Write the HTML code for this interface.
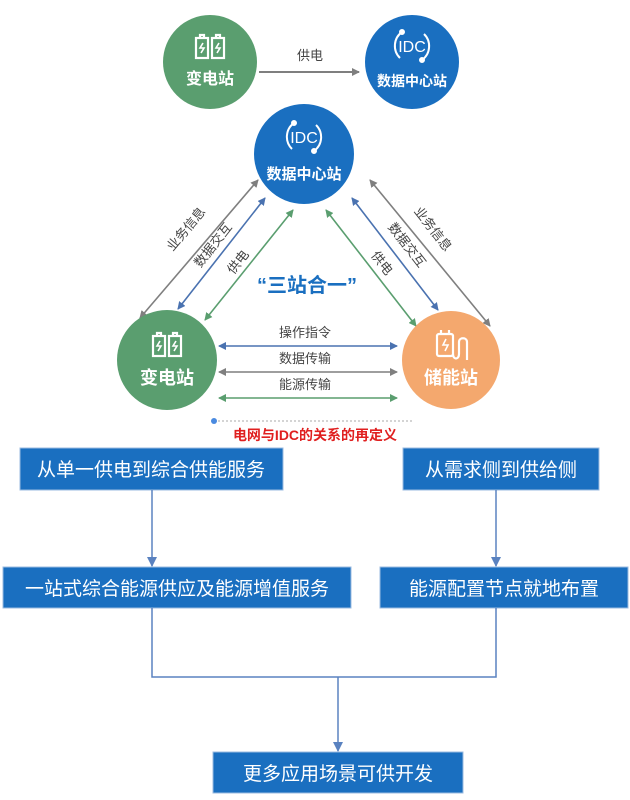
<!DOCTYPE html>
<html><head><meta charset="utf-8"><style>
html,body{margin:0;padding:0;background:#fff;}
svg{display:block;font-family:"Liberation Sans","Noto Sans CJK SC",sans-serif;}
</style></head><body>
<svg width="630" height="800" viewBox="0 0 630 800" xmlns="http://www.w3.org/2000/svg">
<defs>
<marker id="ag" markerWidth="8" markerHeight="8" refX="7" refY="4" orient="auto-start-reverse" markerUnits="userSpaceOnUse"><path d="M0,0 L8,4 L0,8 z" fill="#7f7f7f"/></marker>
<marker id="ab" markerWidth="8" markerHeight="8" refX="7" refY="4" orient="auto-start-reverse" markerUnits="userSpaceOnUse"><path d="M0,0 L8,4 L0,8 z" fill="#4a72b0"/></marker>
<marker id="agr" markerWidth="8" markerHeight="8" refX="7" refY="4" orient="auto-start-reverse" markerUnits="userSpaceOnUse"><path d="M0,0 L8,4 L0,8 z" fill="#5a9e6f"/></marker>
<marker id="af" markerWidth="10" markerHeight="10" refX="9" refY="5" orient="auto" markerUnits="userSpaceOnUse"><path d="M0,0 L10,5 L0,10 z" fill="#5a82c0"/></marker>
<g id="bat" fill="none" stroke="#fff" stroke-width="2.2">
<rect x="-14" y="-10" width="12" height="20"/><rect x="2" y="-10" width="12" height="20"/>
<path d="M-10,-10v-3h4v3M6,-10v-3h4v3"/>
<path d="M-7,-5l-3,5h4l-3,5M9,-5l-3,5h4l-3,5" stroke-width="1.6"/>
</g>
<g id="idc" fill="none" stroke="#fff" stroke-width="2">
<path d="M-10,-14 A17,17 0 0 0 -12,12"/><path d="M10,14 A17,17 0 0 0 12,-12"/>
<circle cx="-10" cy="-14" r="2" fill="#fff"/><circle cx="10" cy="14" r="2" fill="#fff"/>
</g>
</defs>

<circle cx="210" cy="62" r="47" fill="#5a9e6f"/>
<use href="#bat" x="210" y="48"/>
<text x="210" y="84" fill="#fff" font-size="16" font-weight="bold" text-anchor="middle">变电站</text>
<circle cx="412" cy="62" r="47" fill="#1a6fc0"/>
<use href="#idc" x="412" y="46"/>
<text x="412" y="52" fill="#fff" font-size="16" text-anchor="middle">IDC</text>
<text x="412" y="86" fill="#fff" font-size="14" font-weight="bold" text-anchor="middle">数据中心站</text>
<line x1="259" y1="72" x2="359" y2="72" stroke="#7f7f7f" stroke-width="2" marker-end="url(#ag)"/>
<text x="310" y="60" font-size="13" fill="#444" text-anchor="middle">供电</text>

<circle cx="304" cy="154" r="50" fill="#1a6fc0"/>
<use href="#idc" x="304" y="137"/>
<text x="304" y="143" fill="#fff" font-size="16" text-anchor="middle">IDC</text>
<text x="304" y="179" fill="#fff" font-size="15" font-weight="bold" text-anchor="middle">数据中心站</text>

<line x1="140" y1="318" x2="258" y2="180" stroke="#7f7f7f" stroke-width="1.6" marker-start="url(#ag)" marker-end="url(#ag)"/>
<line x1="178" y1="309" x2="265" y2="198" stroke="#4a72b0" stroke-width="1.6" marker-start="url(#ab)" marker-end="url(#ab)"/>
<line x1="205" y1="320" x2="293" y2="210" stroke="#5a9e6f" stroke-width="1.6" marker-start="url(#agr)" marker-end="url(#agr)"/>
<g font-size="13" fill="#444" text-anchor="middle" dominant-baseline="central">
<text transform="translate(186,229) rotate(-50)">业务信息</text>
<text transform="translate(213,245) rotate(-52)">数据交互</text>
<text transform="translate(238,262) rotate(-52)">供电</text>
<text transform="translate(433,229) rotate(52)">业务信息</text>
<text transform="translate(407,245) rotate(52)">数据交互</text>
<text transform="translate(382,263) rotate(52)">供电</text>
</g>
<line x1="490" y1="326" x2="370" y2="180" stroke="#7f7f7f" stroke-width="1.6" marker-start="url(#ag)" marker-end="url(#ag)"/>
<line x1="438" y1="310" x2="352" y2="198" stroke="#4a72b0" stroke-width="1.6" marker-start="url(#ab)" marker-end="url(#ab)"/>
<line x1="416" y1="326" x2="326" y2="210" stroke="#5a9e6f" stroke-width="1.6" marker-start="url(#agr)" marker-end="url(#agr)"/>

<text x="307" y="292" font-size="20" font-weight="bold" fill="#1a6fc0" text-anchor="middle">“三站合一”</text>

<circle cx="167" cy="360" r="50" fill="#5a9e6f"/>
<use href="#bat" x="167" y="346"/>
<text x="167" y="384" fill="#fff" font-size="18" font-weight="bold" text-anchor="middle">变电站</text>
<circle cx="451" cy="360" r="49" fill="#f4a86e"/>
<g fill="none" stroke="#fff" stroke-width="2.2">
<rect x="437" y="334" width="16" height="22" rx="2"/><path d="M441,334v-4M449,334v-4M453,354c0,6 6,6 6,0v-12c0,-5 8,-5 8,0v18"/>
<path d="M446,339l-3,6h5l-3,6" stroke-width="1.6"/></g>
<text x="451" y="384" fill="#fff" font-size="18" font-weight="bold" text-anchor="middle">储能站</text>

<line x1="219" y1="346" x2="397" y2="346" stroke="#4a72b0" stroke-width="1.6" marker-start="url(#ab)" marker-end="url(#ab)"/>
<line x1="219" y1="372" x2="397" y2="372" stroke="#7f7f7f" stroke-width="1.6" marker-start="url(#ag)" marker-end="url(#ag)"/>
<line x1="219" y1="398" x2="397" y2="398" stroke="#5a9e6f" stroke-width="1.6" marker-start="url(#agr)" marker-end="url(#agr)"/>
<text x="305" y="337" font-size="13" fill="#444" text-anchor="middle">操作指令</text>
<text x="305" y="363" font-size="13" fill="#444" text-anchor="middle">数据传输</text>
<text x="305" y="389" font-size="13" fill="#444" text-anchor="middle">能源传输</text>

<circle cx="214" cy="421" r="3" fill="#4a8ae0"/>
<line x1="218" y1="421" x2="412" y2="421" stroke="#aaa" stroke-width="1" stroke-dasharray="2,2"/>
<text x="315" y="440" font-size="14" font-weight="bold" fill="#e02020" text-anchor="middle">电网与IDC的关系的再定义</text>

<g fill="#1a6fc0" stroke="#9bbbe0" stroke-width="1">
<rect x="20" y="448" width="263" height="42"/>
<rect x="403" y="448" width="196" height="42"/>
<rect x="3" y="567" width="348" height="41"/>
<rect x="380" y="567" width="248" height="41"/>
<rect x="213" y="752" width="250" height="41"/>
</g>
<g fill="#fff" font-size="19" text-anchor="middle">
<text x="151" y="476">从单一供电到综合供能服务</text>
<text x="501" y="476">从需求侧到供给侧</text>
<text x="177" y="595">一站式综合能源供应及能源增值服务</text>
<text x="504" y="595">能源配置节点就地布置</text>
<text x="338" y="780">更多应用场景可供开发</text>
</g>
<g stroke="#5a82c0" stroke-width="1.5" fill="none">
<line x1="152" y1="490" x2="152" y2="566" marker-end="url(#af)"/>
<line x1="496" y1="490" x2="496" y2="566" marker-end="url(#af)"/>
<path d="M152,608V677H496V608"/>
<line x1="338" y1="677" x2="338" y2="751" marker-end="url(#af)"/>
</g>
</svg>
</body></html>
